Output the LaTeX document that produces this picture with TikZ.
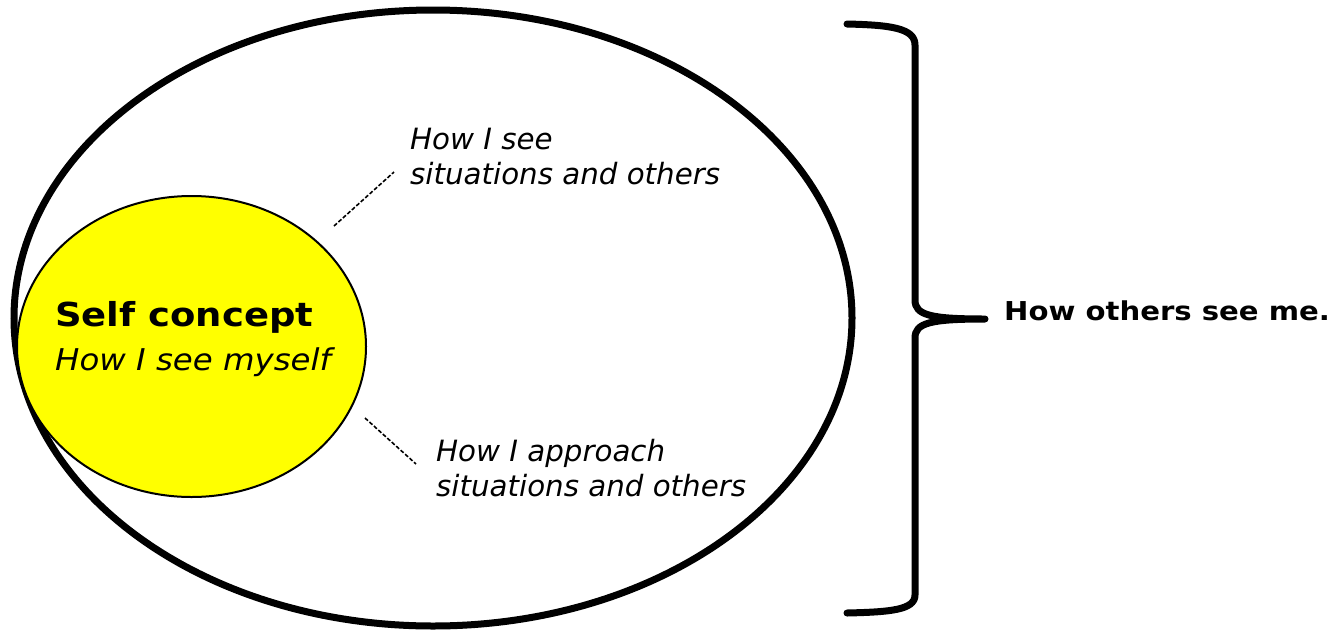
\documentclass[tikz,border=0pt]{standalone}
\usepackage{fontspec}
\setmainfont{DejaVu Sans}
\newfontfamily\widefont{DejaVu Sans}[FakeStretch=1.12]
\newfontfamily\subfont{DejaVu Sans}[FakeStretch=1.08]
\usetikzlibrary{shapes.geometric}
\tikzset{
  lbl/.style={anchor=base west, inner sep=0pt, font=\fontsize{29.3}{35}\selectfont\itshape},
  leader/.style={line width=1.6pt, dash pattern=on 4pt off 2pt},
  bracestroke/.style={line width=7pt, line cap=round, line join=round}
}
\begin{document}
\begin{tikzpicture}[x=1pt,y=-1pt]
\useasboundingbox (0,0) rectangle (1336,630);
\node[ellipse, draw, line width=7pt, minimum width=838pt, minimum height=616pt, inner sep=0pt] (outer) at (433,318) {};
\node[ellipse, draw, line width=2pt, fill={rgb,255:red,255;green,255;blue,0}, minimum width=349pt, minimum height=301pt, inner sep=0pt] (self) at (191.5,346.5) {};
\node[anchor=base west, inner sep=0pt, font=\widefont\fontsize{33}{40}\selectfont\bfseries] (title) at (55,326) {Self concept};
\node[anchor=base west, inner sep=0pt, font=\subfont\fontsize{30}{35}\selectfont\itshape] (sub) at (55,370) {How I see myself};
\node[lbl] (see1) at (410,149) {How I see};
\node[lbl] (see2) at (410,184) {situations and others};
\node[lbl] (app1) at (436,461) {How I approach};
\node[lbl] (app2) at (436,496) {situations and others};
\node[anchor=base west, inner sep=0pt, font=\widefont\fontsize{26}{32}\selectfont\bfseries] (others) at (1004,320) {How others see me.};
\coordinate (l1a) at (334,226);
\coordinate (l1b) at (394,172);
\coordinate (l2a) at (365,418);
\coordinate (l2b) at (416,464);
\draw[leader] (l1a) -- (l1b);
\draw[leader] (l2a) -- (l2b);
\coordinate (btop) at (847,24);
\coordinate (btip) at (985,319);
\coordinate (bbot) at (847,613);
\draw[bracestroke] (btop) .. controls (890,25) and (915,28) .. (915,45) -- (915,300)
  .. controls (915,315) and (930,319) .. (btip)
  .. controls (930,319) and (915,323) .. (915,338) -- (915,595)
  .. controls (915,610) and (890,612) .. (bbot);
\end{tikzpicture}
\end{document}
